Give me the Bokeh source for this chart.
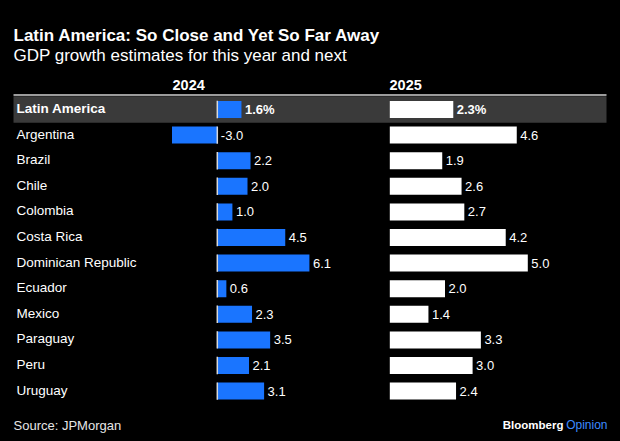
from bokeh.plotting import figure
from bokeh.models import Range1d, ColumnDataSource
from bokeh.core.properties import value
from bokeh.embed import file_html
from bokeh.resources import INLINE

countries = ["Latin America", "Argentina", "Brazil", "Chile", "Colombia", "Costa Rica",
             "Dominican Republic", "Ecuador", "Mexico", "Paraguay", "Peru", "Uruguay"]
g2024 = [1.6, -3.0, 2.2, 2.0, 1.0, 4.5, 6.1, 0.6, 2.3, 3.5, 2.1, 3.1]
g2025 = [2.3, 4.6, 1.9, 2.6, 2.7, 4.2, 5.0, 2.0, 1.4, 3.3, 3.0, 2.4]
years = ["2024", "2025"]
title = "Latin America: So Close and Yet So Far Away"
subtitle = "GDP growth estimates for this year and next"
source_note = "Source: JPMorgan"

FONT = value("Liberation Sans")
BLUE = "#1a75ff"

# layout (page pixel coordinates of the 620x441 window)
W, H = 620, 441
X0, X1, Y0, Y1 = 0, W, 0, H
ROW0, ROWSTEP = 109.0, 25.6
Z24, PPU24 = 216.8, 15.1
Z25, PPU25 = 389.3, 27.6

p = figure(width=W, height=H, output_backend="svg", toolbar_location=None,
           x_range=Range1d(X0, X1), y_range=Range1d(Y1, Y0),
           x_axis_location=None, y_axis_location=None, min_border=0,
           background_fill_color="#000000", border_fill_color="#000000",
           outline_line_color=None, title=None)
p.grid.visible = False
p.extra_y_ranges = {"rows": Range1d((Y1 - ROW0) / ROWSTEP, (Y0 - ROW0) / ROWSTEP)}
p.extra_x_ranges = {
    "x24": Range1d((X0 - Z24) / PPU24, (X1 - Z24) / PPU24),
    "x25": Range1d((X0 - Z25) / PPU25, (X1 - Z25) / PPU25),
}

rows = list(range(len(countries)))
src = ColumnDataSource(dict(
    row=rows, country=countries, g24=g2024, g25=g2025,
    pos24=[max(v, 0) for v in g2024], pos25=[max(v, 0) for v in g2025],
    lab24=[(f"{v:.1f}%" if i == 0 else f"{v:.1f}") for i, v in enumerate(g2024)],
    lab25=[(f"{v:.1f}%" if i == 0 else f"{v:.1f}") for i, v in enumerate(g2025)],
    style=["bold" if i == 0 else "normal" for i in rows],
    zero=[0] * len(rows),
))

# highlight band for the aggregate row + top rule
p.hbar(y=0, left=13, right=606, height=1.04, y_range_name="rows",
       fill_color="#3a3a3a", line_color=None)
p.segment(x0=13, x1=606, y0=94.6, y1=94.6, line_color="#d0d0d0", line_width=1.5)

# bars
p.hbar(y="row", left=0, right="g24", height=0.664, source=src,
       x_range_name="x24", y_range_name="rows", fill_color=BLUE, line_color=None)
p.hbar(y="row", left=0, right="g25", height=0.664, source=src,
       x_range_name="x25", y_range_name="rows", fill_color="#ffffff", line_color=None)
p.rect(x="zero", y="row", width=1.5, height=0.68, width_units="screen", source=src,
       x_range_name="x24", y_range_name="rows", fill_color="#d8d8d8", line_color=None)

# value labels
p.text(x="pos24", y="row", text="lab24", source=src, x_range_name="x24", y_range_name="rows",
       x_offset=3.5, text_baseline="middle", text_align="left", text_color="#ffffff",
       text_font=FONT, text_font_size="13px", text_font_style="style")
p.text(x="pos25", y="row", text="lab25", source=src, x_range_name="x25", y_range_name="rows",
       x_offset=3.5, text_baseline="middle", text_align="left", text_color="#ffffff",
       text_font=FONT, text_font_size="13px", text_font_style="style")

# country labels
p.text(x=16, y="row", text="country", source=src, y_range_name="rows", y_offset=-1,
       text_baseline="middle", text_align="left", text_color="#ffffff",
       text_font=FONT, text_font_size="13.5px", text_font_style="style")

# column headers
p.text(x=[172, 389], y=[84, 84], text=years, text_baseline="alphabetic",
       text_color="#ffffff", text_font=FONT, text_font_size="14.5px",
       text_font_style="bold")

# titles and footer
p.text(x=[13], y=[35], text=[title], text_baseline="alphabetic", text_color="#ffffff",
       text_font=FONT, text_font_size="17px", text_font_style="bold")
p.text(x=[13], y=[55], text=[subtitle], text_baseline="alphabetic", text_color="#ffffff",
       text_font=FONT, text_font_size="17px")
p.text(x=[13], y=[425], text=[source_note], text_baseline="alphabetic", text_color="#e6e6e6",
       text_font=FONT, text_font_size="13px")
p.text(x=[563], y=[424], text=["Bloomberg"], text_baseline="alphabetic", text_align="right",
       text_color="#ffffff", text_font=FONT, text_font_size="11.5px", text_font_style="bold")
p.text(x=[607], y=[424], text=["Opinion"], text_baseline="alphabetic", text_align="right",
       text_color="#3d8bff", text_font=FONT, text_font_size="12px")

html = file_html(p, INLINE)
html = html.replace("</head>", "<style>html,body{background:#000000;}</style></head>", 1)
open("out.html", "w").write(html)
